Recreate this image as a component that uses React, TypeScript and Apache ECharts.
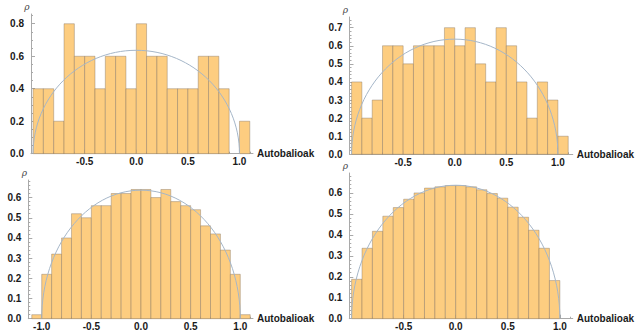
import React, { useEffect, useRef } from "react";
import * as echarts from "echarts";

// ---- data ----
const BIN_WIDTH = 0.1;

const binsA = [-1.0, -0.9, -0.8, -0.7, -0.6, -0.5, -0.4, -0.3, -0.2, -0.1, 0.0, 0.1, 0.2, 0.3, 0.4, 0.5, 0.6, 0.7, 0.8, 0.9, 1.0];
const rhoA = [0.4, 0.4, 0.2, 0.8, 0.6, 0.6, 0.4, 0.6, 0.6, 0.4, 0.8, 0.6, 0.6, 0.4, 0.4, 0.4, 0.6, 0.6, 0.4, 0.0, 0.2];

const binsB = [-1.0, -0.9, -0.8, -0.7, -0.6, -0.5, -0.4, -0.3, -0.2, -0.1, 0.0, 0.1, 0.2, 0.3, 0.4, 0.5, 0.6, 0.7, 0.8, 0.9, 1.0];
const rhoB = [0.4, 0.2, 0.3, 0.6, 0.6, 0.5, 0.6, 0.6, 0.6, 0.7, 0.6, 0.7, 0.5, 0.4, 0.7, 0.6, 0.4, 0.2, 0.4, 0.3, 0.1];

const binsC = [-1.1, -1.0, -0.9, -0.8, -0.7, -0.6, -0.5, -0.4, -0.3, -0.2, -0.1, 0.0, 0.1, 0.2, 0.3, 0.4, 0.5, 0.6, 0.7, 0.8, 0.9, 1.0];
const rhoC = [0.02, 0.22, 0.32, 0.4, 0.52, 0.5, 0.56, 0.56, 0.62, 0.62, 0.64, 0.64, 0.6, 0.64, 0.58, 0.56, 0.54, 0.46, 0.42, 0.34, 0.22, 0.02];

const binsD = [-1.0, -0.9, -0.8, -0.7, -0.6, -0.5, -0.4, -0.3, -0.2, -0.1, 0.0, 0.1, 0.2, 0.3, 0.4, 0.5, 0.6, 0.7, 0.8, 0.9];
const rhoD = [0.188, 0.336, 0.417, 0.489, 0.53, 0.57, 0.6, 0.623, 0.629, 0.635, 0.635, 0.629, 0.615, 0.597, 0.575, 0.532, 0.484, 0.422, 0.336, 0.182];

// Wigner semicircle parameters
const SEMI_CENTER = 0;
const SEMI_RADIUS = 1;
const SEMI_PEAK = 0.6366;

const xTicksABD = [-0.5, 0.0, 0.5, 1.0];
const xTicksC = [-1.0, -0.5, 0.0, 0.5, 1.0];
const yTicksA = [0.0, 0.2, 0.4, 0.6, 0.8];
const yTicksB = [0.0, 0.1, 0.2, 0.3, 0.4, 0.5, 0.6, 0.7];
const yTicksCD = [0.0, 0.1, 0.2, 0.3, 0.4, 0.5, 0.6];

const X_NAME = "Autobalioak";
const Y_NAME = "ρ";

// ---- layout ----
const panels = [
  { bins: binsA, rho: rhoA, xTicks: xTicksABD, yTicks: yTicksA, yStep: 0.2, ySplit: 4,
    left: 31, top: 14, width: 222, height: 139.7, xMin: -1.02, xMax: 1.131, yMax: 0.86 },
  { bins: binsB, rho: rhoB, xTicks: xTicksABD, yTicks: yTicksB, yStep: 0.1, ySplit: 5,
    left: 349.5, top: 17, width: 223.5, height: 137.3, xMin: -1.02, xMax: 1.144, yMax: 0.759 },
  { bins: binsC, rho: rhoC, xTicks: xTicksC, yTicks: yTicksCD, yStep: 0.1, ySplit: 5,
    left: 28.3, top: 180, width: 224.7, height: 138.7, xMin: -1.135, xMax: 1.128, yMax: 0.687 },
  { bins: binsD, rho: rhoD, xTicks: xTicksABD, yTicks: yTicksCD, yStep: 0.1, ySplit: 5,
    left: 349.3, top: 173, width: 230.7, height: 145.7, xMin: -1.022, xMax: 1.124, yMax: 0.695 },
];

const AXIS_COLOR = "#a9a9a9";
const LABEL_COLOR = "#1a1a1a";
const BAR_FILL = "rgb(253, 205, 128)";
const BAR_EDGE = "rgba(120, 105, 90, 0.55)";
const CURVE_COLOR = "#a5b6c8";
const FONT = "'Liberation Sans', Arial, sans-serif";

function buildOption() {
  const grid: any[] = [];
  const xAxis: any[] = [];
  const yAxis: any[] = [];
  const series: any[] = [];

  panels.forEach((p, i) => {
    grid.push({ left: p.left, top: p.top, width: p.width, height: p.height, containLabel: false });
    xAxis.push({
      gridIndex: i,
      type: "value",
      min: p.xMin,
      max: p.xMax,
      splitLine: { show: false },
      axisLine: { show: true, onZero: false, lineStyle: { color: AXIS_COLOR, width: 1 } },
      axisTick: { show: true, inside: true, length: 4, customValues: p.xTicks, lineStyle: { color: AXIS_COLOR } },
      minorTick: { show: true, splitNumber: 5, length: 2, lineStyle: { color: AXIS_COLOR } },
      axisLabel: {
        customValues: p.xTicks,
        formatter: (v: number) => v.toFixed(1),
        fontFamily: FONT,
        fontWeight: "bold",
        fontSize: 10,
        color: LABEL_COLOR,
        margin: 3,
      },
      name: X_NAME,
      nameLocation: "end",
      nameGap: 4,
      nameTextStyle: { fontFamily: FONT, fontWeight: "bold", fontSize: 10, color: LABEL_COLOR },
    });
    yAxis.push({
      gridIndex: i,
      type: "value",
      min: 0,
      max: p.yMax,
      interval: p.yStep,
      splitLine: { show: false },
      axisLine: { show: true, onZero: false, lineStyle: { color: AXIS_COLOR, width: 1 } },
      axisTick: { show: true, inside: true, length: 4, customValues: p.yTicks, lineStyle: { color: AXIS_COLOR } },
      minorTick: { show: true, splitNumber: p.ySplit, length: 2, lineStyle: { color: AXIS_COLOR } },
      axisLabel: {
        customValues: p.yTicks,
        formatter: (v: number) => v.toFixed(1),
        fontFamily: FONT,
        fontWeight: "bold",
        fontSize: 10,
        color: LABEL_COLOR,
        margin: 7,
      },
      name: Y_NAME,
      nameLocation: "end",
      nameGap: 3,
      nameTextStyle: {
        fontFamily: "'DejaVu Serif', serif",
        fontStyle: "italic",
        fontSize: 9,
        color: "#444",
        padding: [0, 8, 0, 0],
      },
    });

    series.push({
      type: "custom",
      xAxisIndex: i,
      yAxisIndex: i,
      data: p.bins.map((b, k) => [b, b + BIN_WIDTH, p.rho[k]]),
      encode: { x: [0, 1], y: 2 },
      renderItem: (_params: any, api: any) => {
        const h = api.value(2);
        if (!h) return null;
        const p0 = api.coord([api.value(0), 0]);
        const p1 = api.coord([api.value(1), h]);
        return {
          type: "rect",
          shape: { x: p0[0], y: p1[1], width: p1[0] - p0[0], height: p0[1] - p1[1] },
          style: { fill: BAR_FILL, stroke: BAR_EDGE, lineWidth: 0.7 },
        };
      },
    });

    series.push({
      type: "custom",
      xAxisIndex: i,
      yAxisIndex: i,
      clip: true,
      data: [[SEMI_CENTER, 0]],
      renderItem: (_params: any, api: any) => {
        const c = api.coord([SEMI_CENTER, 0]);
        const s = api.size([SEMI_RADIUS, SEMI_PEAK]);
        return {
          type: "ellipse",
          shape: { cx: c[0], cy: c[1], rx: s[0], ry: s[1] },
          style: { fill: "none", stroke: CURVE_COLOR, lineWidth: 1 },
        };
      },
    });
  });

  return { animation: false, backgroundColor: "#ffffff", grid, xAxis, yAxis, series };
}

export default function App() {
  const ref = useRef<HTMLDivElement>(null);
  useEffect(() => {
    if (!ref.current) return;
    const chart = echarts.init(ref.current, undefined, { renderer: "svg" });
    chart.setOption(buildOption() as any);
    return () => chart.dispose();
  }, []);
  return (
    <div
      ref={ref}
      style={{ position: "fixed", left: 0, top: 0, width: 635, height: 335, background: "#fff" }}
    />
  );
}
